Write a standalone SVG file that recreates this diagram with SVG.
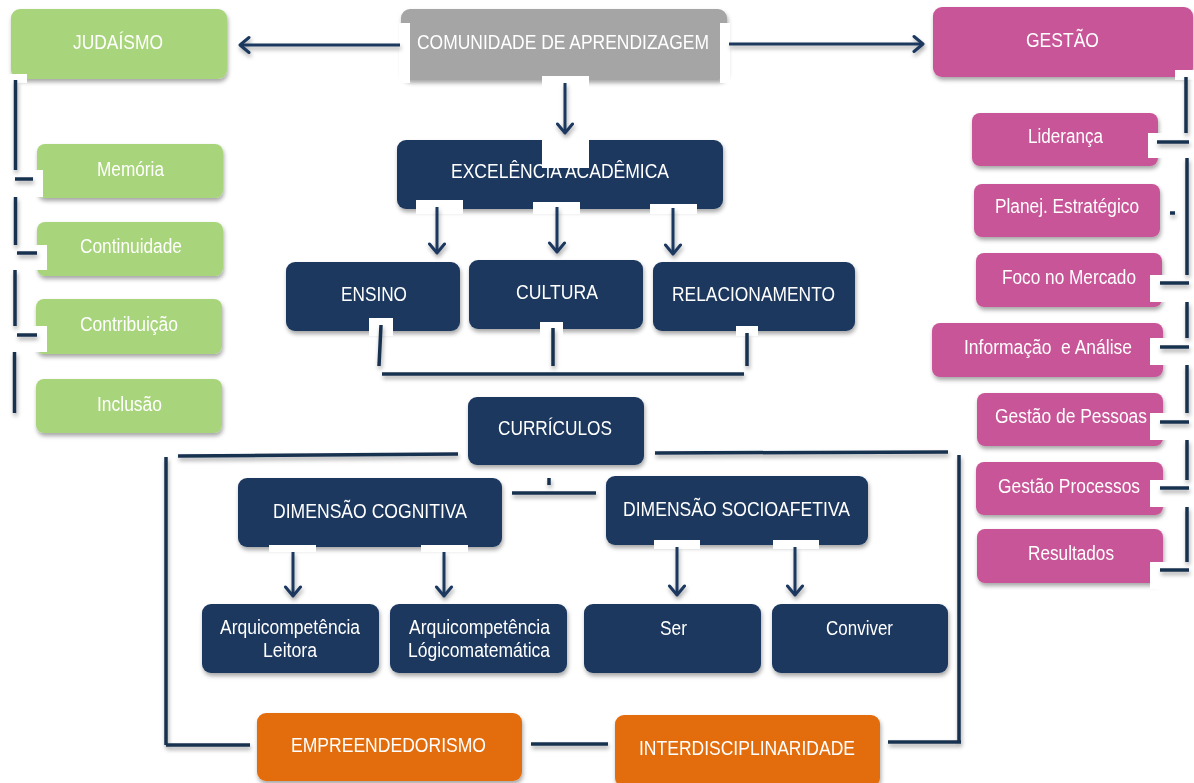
<svg xmlns="http://www.w3.org/2000/svg" width="1194" height="783" viewBox="0 0 1194 783">
  <style>
    .t { font-family: "Liberation Sans", Arial, sans-serif; fill: #FFFFFF; font-size: 21px; }
    .s { font-size: 20px; }
    .green { fill: #A8D57B; }
    .gray { fill: #A5A5A5; }
    .pink { fill: #C85597; }
    .navy { fill: #1B375E; }
    .orange { fill: #E36C0B; }
    .cut { fill: #FFFFFF; }
    .ln { stroke: #18304F; stroke-width: 3.5; fill: none; }
    .ar { stroke: #1B375E; stroke-width: 3; fill: none; marker-end: url(#head); }
  </style>
  <defs>
    <filter id="shadow" filterUnits="userSpaceOnUse" x="0" y="0" width="1194" height="783">
      <feDropShadow dx="1" dy="3" stdDeviation="2" flood-color="#000000" flood-opacity="0.35"/>
    </filter>
    <marker id="head" markerUnits="userSpaceOnUse" viewBox="-12 -10 14 20" refX="0" refY="0" markerWidth="14" markerHeight="20" orient="auto">
      <path d="M-9,-7.5 L0,0 L-9,7.5" stroke="#1B375E" stroke-width="3" fill="none" stroke-linecap="round" stroke-linejoin="round"/>
    </marker>
  </defs>
  <rect width="1194" height="783" fill="#FFFFFF"/>

  <!-- top level -->
  <g id="judaismo" filter="url(#shadow)">
    <rect class="green" x="11" y="9" width="216" height="70" rx="9"/>
    <text class="t" x="73" y="49" textLength="90" lengthAdjust="spacingAndGlyphs">JUDAÍSMO</text>
  </g>
  <g id="comunidade" filter="url(#shadow)">
    <rect class="gray" x="401" y="9" width="326" height="71" rx="9"/>
    <text class="t" x="417" y="49" textLength="292" lengthAdjust="spacingAndGlyphs">COMUNIDADE DE APRENDIZAGEM</text>
  </g>
  <g id="gestao" filter="url(#shadow)">
    <rect class="pink" x="933" y="7" width="260" height="70" rx="9"/>
    <text class="t" x="1026" y="47" textLength="73" lengthAdjust="spacingAndGlyphs">GESTÃO</text>
  </g>

  <!-- judaism column -->
  <g id="memoria" filter="url(#shadow)">
    <rect class="green" x="37" y="144" width="186" height="54" rx="8"/>
    <text class="t s" x="97" y="176" textLength="67" lengthAdjust="spacingAndGlyphs">Memória</text>
  </g>
  <g id="continuidade" filter="url(#shadow)">
    <rect class="green" x="37" y="222" width="186" height="54" rx="8"/>
    <text class="t s" x="80" y="253" textLength="102" lengthAdjust="spacingAndGlyphs">Continuidade</text>
  </g>
  <g id="contribuicao" filter="url(#shadow)">
    <rect class="green" x="36" y="299" width="186" height="55" rx="8"/>
    <text class="t s" x="80" y="331" textLength="98" lengthAdjust="spacingAndGlyphs">Contribuição</text>
  </g>
  <g id="inclusao" filter="url(#shadow)">
    <rect class="green" x="36" y="379" width="186" height="54" rx="8"/>
    <text class="t s" x="97" y="411" textLength="65" lengthAdjust="spacingAndGlyphs">Inclusão</text>
  </g>

  <!-- management column -->
  <g id="lideranca" filter="url(#shadow)">
    <rect class="pink" x="972" y="113" width="186" height="53" rx="8"/>
    <text class="t s" x="1028" y="143" textLength="75" lengthAdjust="spacingAndGlyphs">Liderança</text>
  </g>
  <g id="planejamento" filter="url(#shadow)">
    <rect class="pink" x="974" y="184" width="186" height="53" rx="8"/>
    <text class="t s" x="995" y="213" textLength="144" lengthAdjust="spacingAndGlyphs">Planej. Estratégico</text>
  </g>
  <g id="foco" filter="url(#shadow)">
    <rect class="pink" x="976" y="253" width="186" height="54" rx="8"/>
    <text class="t s" x="1002" y="284" textLength="134" lengthAdjust="spacingAndGlyphs">Foco no Mercado</text>
  </g>
  <g id="informacao" filter="url(#shadow)">
    <rect class="pink" x="932" y="323" width="231" height="54" rx="8"/>
    <text class="t s" x="964" y="354" textLength="168" lengthAdjust="spacingAndGlyphs" xml:space="preserve">Informação  e Análise</text>
  </g>
  <g id="pessoas" filter="url(#shadow)">
    <rect class="pink" x="977" y="393" width="186" height="53" rx="8"/>
    <text class="t s" x="995" y="423" textLength="152" lengthAdjust="spacingAndGlyphs">Gestão de Pessoas</text>
  </g>
  <g id="processos" filter="url(#shadow)">
    <rect class="pink" x="976" y="462" width="187" height="53" rx="8"/>
    <text class="t s" x="998" y="493" textLength="142" lengthAdjust="spacingAndGlyphs">Gestão Processos</text>
  </g>
  <g id="resultados" filter="url(#shadow)">
    <rect class="pink" x="977" y="529" width="186" height="54" rx="8"/>
    <text class="t s" x="1028" y="560" textLength="86" lengthAdjust="spacingAndGlyphs">Resultados</text>
  </g>

  <!-- academic excellence branch -->
  <g id="excelencia" filter="url(#shadow)">
    <rect class="navy" x="397" y="140" width="326" height="69" rx="9"/>
    <text class="t" x="451" y="178" textLength="218" lengthAdjust="spacingAndGlyphs">EXCELÊNCIA ACADÊMICA</text>
  </g>
  <g id="ensino" filter="url(#shadow)">
    <rect class="navy" x="286" y="262" width="174" height="69" rx="9"/>
    <text class="t" x="341" y="301" textLength="66" lengthAdjust="spacingAndGlyphs">ENSINO</text>
  </g>
  <g id="cultura" filter="url(#shadow)">
    <rect class="navy" x="469" y="260" width="174" height="69" rx="9"/>
    <text class="t" x="516" y="299" textLength="82" lengthAdjust="spacingAndGlyphs">CULTURA</text>
  </g>
  <g id="relacionamento" filter="url(#shadow)">
    <rect class="navy" x="653" y="262" width="202" height="69" rx="9"/>
    <text class="t" x="672" y="301" textLength="163" lengthAdjust="spacingAndGlyphs">RELACIONAMENTO</text>
  </g>

  <!-- curriculum branch -->
  <g id="curriculos" filter="url(#shadow)">
    <rect class="navy" x="468" y="397" width="176" height="68" rx="9"/>
    <text class="t" x="498" y="435" textLength="114" lengthAdjust="spacingAndGlyphs">CURRÍCULOS</text>
  </g>
  <g id="dim-cognitiva" filter="url(#shadow)">
    <rect class="navy" x="238" y="478" width="264" height="69" rx="9"/>
    <text class="t" x="273" y="518" textLength="194" lengthAdjust="spacingAndGlyphs">DIMENSÃO COGNITIVA</text>
  </g>
  <g id="dim-socioafetiva" filter="url(#shadow)">
    <rect class="navy" x="606" y="476" width="262" height="69" rx="9"/>
    <text class="t" x="623" y="516" textLength="227" lengthAdjust="spacingAndGlyphs">DIMENSÃO SOCIOAFETIVA</text>
  </g>
  <g id="leitora" filter="url(#shadow)">
    <rect class="navy" x="202" y="604" width="177" height="69" rx="9"/>
    <text class="t s" x="220" y="634" textLength="140" lengthAdjust="spacingAndGlyphs">Arquicompetência</text>
    <text class="t s" x="263" y="657" textLength="54" lengthAdjust="spacingAndGlyphs">Leitora</text>
  </g>
  <g id="logicomatematica" filter="url(#shadow)">
    <rect class="navy" x="390" y="604" width="177" height="69" rx="9"/>
    <text class="t s" x="409" y="634" textLength="141" lengthAdjust="spacingAndGlyphs">Arquicompetência</text>
    <text class="t s" x="408" y="657" textLength="142" lengthAdjust="spacingAndGlyphs">Lógicomatemática</text>
  </g>
  <g id="ser" filter="url(#shadow)">
    <rect class="navy" x="584" y="604" width="177" height="69" rx="9"/>
    <text class="t s" x="660" y="635" textLength="27" lengthAdjust="spacingAndGlyphs">Ser</text>
  </g>
  <g id="conviver" filter="url(#shadow)">
    <rect class="navy" x="772" y="604" width="176" height="69" rx="9"/>
    <text class="t s" x="826" y="635" textLength="67" lengthAdjust="spacingAndGlyphs">Conviver</text>
  </g>
  <g id="empreendedorismo" filter="url(#shadow)">
    <rect class="orange" x="257" y="713" width="265" height="68" rx="9"/>
    <text class="t" x="291" y="752" textLength="195" lengthAdjust="spacingAndGlyphs">EMPREENDEDORISMO</text>
  </g>
  <g id="interdisciplinaridade" filter="url(#shadow)">
    <rect class="orange" x="615" y="715" width="265" height="72" rx="9"/>
    <text class="t" x="639" y="755" textLength="216" lengthAdjust="spacingAndGlyphs">INTERDISCIPLINARIDADE</text>
  </g>

  <!-- white backing panels of the connector labels, cutting into box edges -->
  <g id="cutouts">
    <rect class="cut" x="399" y="23" width="11" height="60"/>
    <rect class="cut" x="720" y="23" width="10" height="60"/>
    <rect class="cut" x="542" y="76" width="47" height="92"/>
    <rect class="cut" x="9" y="74" width="18" height="9"/>
    <rect class="cut" x="1175" y="70" width="19" height="10"/>
    <rect class="cut" x="9" y="170" width="34" height="27"/>
    <rect class="cut" x="9" y="245" width="38" height="25"/>
    <rect class="cut" x="9" y="326" width="38" height="26"/>
    <rect class="cut" x="1148" y="133" width="46" height="25"/>
    <rect class="cut" x="1150" y="275" width="44" height="27"/>
    <rect class="cut" x="1150" y="338" width="44" height="27"/>
    <rect class="cut" x="1150" y="413" width="44" height="27"/>
    <rect class="cut" x="1150" y="480" width="44" height="27"/>
    <rect class="cut" x="1150" y="562" width="44" height="27"/>
    <rect class="cut" x="416" y="200" width="47" height="14"/>
    <rect class="cut" x="533" y="202" width="47" height="12"/>
    <rect class="cut" x="650" y="204" width="47" height="10"/>
    <rect class="cut" x="369" y="318" width="24" height="18"/>
    <rect class="cut" x="540" y="322" width="23" height="14"/>
    <rect class="cut" x="736" y="326" width="22" height="10"/>
    <rect class="cut" x="269" y="545" width="47" height="7"/>
    <rect class="cut" x="421" y="545" width="47" height="7"/>
    <rect class="cut" x="654" y="540" width="46" height="9"/>
    <rect class="cut" x="773" y="540" width="46" height="9"/>
  </g>

  <g id="connectors" filter="url(#shadow)">
    <!-- top arrows -->
    <path class="ar" d="M400,45 H240"/>
    <path class="ar" d="M729,44 H923"/>
    <path class="ar" d="M565,83 V133"/>
    <path class="ar" d="M437,207 V253"/>
    <path class="ar" d="M557,207 V252"/>
    <path class="ar" d="M673,208 V254"/>

    <!-- judaism column bracket -->
    <path class="ln" d="M15.5,80 V170 M15.5,197 V245 M15,270 V326 M14.5,352 V413"/>
    <path class="ln" d="M15,179 H33 M17,253 H37 M17,335 H37"/>

    <!-- management column bracket -->
    <path class="ln" d="M1186,77 V133 M1187,158 V275 M1187,302 V338 M1187,365 V413 M1187,440 V480 M1187,507 V562"/>
    <path class="ln" d="M1157,142 H1189 M1170,213 H1175 M1160,283 H1189 M1160,347 H1189 M1160,422 H1189 M1160,488 H1189 M1160,570 H1189"/>

    <!-- ensino / cultura / relacionamento join -->
    <path class="ln" d="M381,325 L379,366 M553,328 V366 M747,333 V366"/>
    <path class="ln" d="M382,374 H744"/>

    <!-- curriculum frame -->
    <path class="ln" d="M178,456 L458,454 M655,453 L948,452"/>
    <path class="ln" d="M166,457 V745 M959,455 V742"/>
    <path class="ln" d="M166,745 H250 M531,744 H608 M888,742 H961"/>
    <path class="ln" d="M549,478 V485 M512,493 H596"/>

    <!-- dimension arrows -->
    <path class="ar" d="M293,552 V596"/>
    <path class="ar" d="M444,552 V596"/>
    <path class="ar" d="M677,547 V595"/>
    <path class="ar" d="M795,547 V595"/>
  </g>
</svg>
